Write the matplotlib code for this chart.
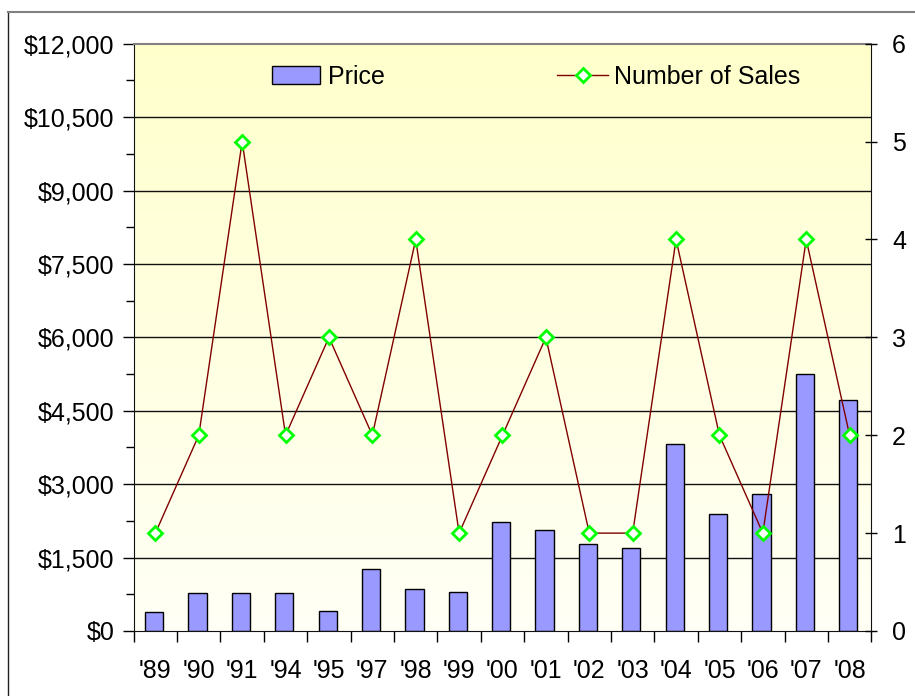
import matplotlib
matplotlib.use("Agg")
import matplotlib.pyplot as plt
import numpy as np
from matplotlib.ticker import FuncFormatter, MultipleLocator
from matplotlib.lines import Line2D
from matplotlib.patches import Patch

years = ["'89", "'90", "'91", "'94", "'95", "'97", "'98", "'99", "'00", "'01",
         "'02", "'03", "'04", "'05", "'06", "'07", "'08"]
price = [395, 770, 770, 770, 400, 1260, 850, 805, 2230, 2070,
         1785, 1700, 3815, 2400, 2800, 5245, 4710]
sales = [1, 2, 5, 2, 3, 2, 4, 1, 2, 3, 1, 1, 4, 2, 1, 4, 2]

plt.rcParams['font.family'] = ['Liberation Sans', 'DejaVu Sans']

W, H = 915, 696
fig = plt.figure(figsize=(W / 100, H / 100), dpi=100)
fig.patch.set_facecolor('white')

# outer chart border (left & top visible)
fig.add_artist(Line2D([7.5 / W, 7.5 / W], [0, 1 - 11.5 / H], color='#222222', lw=1.0))
fig.add_artist(Line2D([7.5 / W, 1], [1 - 11.5 / H, 1 - 11.5 / H], color='#808080', lw=1.5))

left, right, top, bottom = 133.7, 871.3, 43.7, 631.0
AW, AH = right - left, bottom - top
ax = fig.add_axes([left / W, 1 - bottom / H, AW / W, AH / H])

n = len(years)
x = np.arange(n)
ax.set_xlim(-0.5, n - 0.5)
ax.set_ylim(0, 12000)

# gradient background (yellow at top, near-white at bottom)
grad = np.linspace(0, 1, 256).reshape(-1, 1)
top_c = np.array([255, 255, 204]) / 255
bot_c = np.array([255, 255, 246]) / 255
img = top_c[None, None, :] * (1 - grad[:, :, None]) + bot_c[None, None, :] * grad[:, :, None]
ax.imshow(img, extent=[-0.5, n - 0.5, 0, 12000], aspect='auto', zorder=0, origin='upper')

for v in np.arange(1500, 12000, 1500):
    ax.axhline(v, color='#111111', lw=1.0, zorder=1)

ax.bar(x - 0.03, price, width=0.42, color='#9999FF', edgecolor='black', lw=1.0, zorder=2)

ax.yaxis.set_major_locator(MultipleLocator(1500))
ax.yaxis.set_minor_locator(MultipleLocator(750))
ax.yaxis.set_major_formatter(FuncFormatter(lambda v, p: f"${v:,.0f}"))
ax.tick_params(axis='y', which='major', length=8, width=1, labelsize=18, pad=6, direction='out')
ax.tick_params(axis='y', which='minor', length=6, width=1, direction='out')

ax.set_xticks(x)
ax.set_xticklabels(years)
ax.set_xticks(np.arange(-0.5, n, 1), minor=True)
ax.tick_params(axis='x', which='major', length=0, labelsize=18, pad=20)
ax.tick_params(axis='x', which='minor', length=8, width=1, direction='out')

ax.spines['left'].set_color('#111111')
ax.spines['bottom'].set_color('#111111')
ax.spines['top'].set_color('#808080')
ax.spines['top'].set_linewidth(1.5)
ax.spines['right'].set_visible(False)

ax2 = ax.twinx()
ax2.set_ylim(0, 6)
ax2.plot(x, sales, color='#800000', lw=1.0, marker='D', ms=7, mfc='white',
         mec='#00FF00', mew=2.0, zorder=5)
ax2.set_yticks(range(0, 7))
ax2.tick_params(axis='y', which='major', length=8, width=1, labelsize=18, direction='inout', pad=11)
ax2.spines['right'].set_color('#111111')
for s in ['left', 'top', 'bottom']:
    ax2.spines[s].set_visible(False)

h_price = Patch(facecolor='#9999FF', edgecolor='black', lw=1.0)
h_sales = Line2D([], [], color='#800000', lw=1.0, marker='D', ms=7, mfc='white', mec='#00FF00', mew=2.0)
leg_y = 1 - (77 - top) / AH
leg1 = ax2.legend([h_price], ['Price'], loc='center left',
                  bbox_to_anchor=((272 - left) / AW, leg_y),
                  frameon=False, fontsize=18, handlelength=1.9, handleheight=0.75,
                  handletextpad=0.36, borderpad=0, borderaxespad=0)
ax2.add_artist(leg1)
ax2.legend([h_sales], ['Number of Sales'], loc='center left',
           bbox_to_anchor=((557 - left) / AW, leg_y),
           frameon=False, fontsize=18, handlelength=2.05, handletextpad=0.25,
           borderpad=0, borderaxespad=0)

fig.savefig('out.png', dpi=100)
